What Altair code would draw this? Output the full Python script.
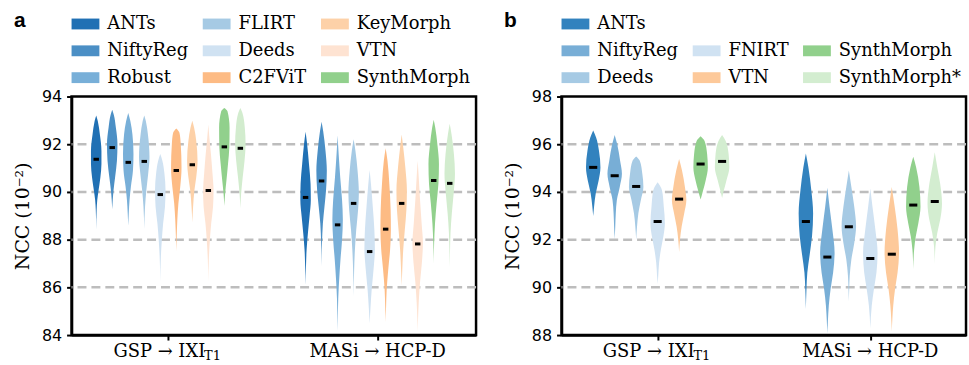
import altair as alt
import pandas as pd

# ---------------- data ----------------
groups_main = ["GSP \u2192 IXI", "MASi \u2192 HCP-D"]
groups_sub = ["T1", ""]

methods_a = ["ANTs", "NiftyReg", "Robust", "FLIRT", "Deeds", "C2FViT",
             "KeyMorph", "VTN", "SynthMorph", "SynthMorph*"]
colors_a = ["#2070b4", "#4b8fc5", "#78afd8", "#a6cae4", "#d0e2f2", "#fdbb84",
            "#fdd1a8", "#fee3d2", "#91d08c", "#d2ecce"]
legend_a = ["ANTs", "NiftyReg", "Robust", "FLIRT", "Deeds", "C2FViT",
            "KeyMorph", "VTN", "SynthMorph"]

methods_b = ["ANTs", "NiftyReg", "Deeds", "FNIRT", "VTN", "SynthMorph", "SynthMorph*"]
colors_b = ["#3282be", "#78aed6", "#a6cae4", "#d0e2f2", "#fdc99a", "#91d08c", "#d3edd0"]
legend_b = ["ANTs", "NiftyReg", "Deeds", " ", "FNIRT", "VTN",
            "  ", "SynthMorph", "SynthMorph*"]

yticks_a = [84, 86, 88, 90, 92, 94]
yticks_b = [88, 90, 92, 94, 96, 98]

# medians (NCC x 1e-2)
med_a_gsp = [91.37, 91.86, 91.24, 91.28, 89.89, 90.90, 91.14, 90.06, 91.89, 91.83]
med_a_masi = [89.77, 90.46, 88.62, 89.52, 87.50, 88.44, 89.52, 87.82, 90.48, 90.36]
med_b_gsp = [95.03, 94.68, 94.23, 92.76, 93.70, 95.17, 95.28]
med_b_masi = [92.76, 91.27, 92.54, 91.21, 91.39, 93.45, 93.60]

# violin outlines: (NCC value, relative half-width)
prof_a_gsp = [
    [(93.21, 0), (92.97, .3), (92.41, .7), (91.72, 1), (91.17, 1), (90.62, .8), (90.07, .45), (89.66, .2), (89.24, .08), (88.44, 0)],
    [(93.45, 0), (93.24, .3), (92.69, .7), (92.0, 1), (91.31, .9), (90.62, .55), (90.07, .25), (89.66, .1), (89.27, 0)],
    [(93.31, 0), (92.97, .4), (92.41, .8), (91.59, 1), (90.90, .9), (90.21, .5), (89.66, .25), (89.10, .1), (88.58, 0)],
    [(93.21, 0), (92.97, .3), (92.41, .7), (91.45, 1), (90.76, .75), (90.07, .4), (89.38, .15), (88.44, 0)],
    [(91.59, 0), (91.31, .4), (90.76, .8), (90.07, 1), (89.38, .9), (88.69, .55), (88.0, .3), (87.31, .12), (86.21, 0)],
    [(92.66, 0), (92.48, .6), (92.0, .85), (91.03, 1), (90.21, .75), (89.52, .4), (88.83, .2), (88.14, .08), (87.52, 0)],
    [(92.99, 0), (92.69, .35), (92.14, .75), (91.31, 1), (90.62, .75), (90.07, .4), (89.38, .15), (88.72, 0)],
    [(92.83, 0), (92.28, .2), (91.59, .5), (90.76, .8), (90.07, 1), (89.38, .9), (88.69, .55), (88.0, .3), (87.17, .1), (86.23, 0)],
    [(93.52, 0), (93.38, .6), (92.69, 1), (91.86, .95), (91.17, .7), (90.48, .4), (89.93, .15), (89.41, 0)],
    [(93.52, 0), (93.31, .4), (92.69, .85), (92.0, 1), (91.31, .8), (90.62, .45), (89.93, .15), (89.31, 0)],
]
prof_a_masi = [
    [(92.52, 0), (92.0, .3), (91.17, .65), (90.34, .95), (89.66, 1), (88.97, .75), (88.28, .45), (87.59, .2), (86.90, .08), (86.11, 0)],
    [(92.94, 0), (92.55, .3), (91.72, .75), (90.90, 1), (90.07, .85), (89.38, .55), (88.69, .25), (87.86, .08), (86.86, 0)],
    [(92.37, 0), (91.59, .2), (90.62, .5), (89.66, .85), (88.83, 1), (88.0, .85), (87.17, .55), (86.34, .3), (85.52, .12), (84.83, .05), (84.18, 0)],
    [(92.21, 0), (91.72, .35), (90.90, .75), (89.93, 1), (89.24, .85), (88.41, .5), (87.59, .25), (86.76, .1), (85.63, 0)],
    [(90.92, 0), (90.34, .25), (89.38, .6), (88.41, .9), (87.59, 1), (86.76, .75), (85.93, .4), (85.10, .15), (84.48, 0)],
    [(91.83, 0), (91.31, .35), (90.34, .7), (89.24, .95), (88.41, 1), (87.59, .85), (86.76, .5), (85.93, .2), (85.10, .07), (84.55, 0)],
    [(92.41, 0), (91.86, .3), (91.03, .7), (90.07, 1), (89.24, .9), (88.41, .6), (87.59, .3), (86.76, .12), (86.07, 0)],
    [(91.31, 0), (90.62, .2), (89.66, .45), (88.69, .75), (87.86, 1), (87.03, .8), (86.21, .45), (85.38, .2), (84.69, .07), (84.14, 0)],
    [(93.03, 0), (92.69, .3), (92.0, .7), (91.17, 1), (90.34, .9), (89.52, .55), (88.69, .25), (87.86, .08), (86.99, 0)],
    [(92.86, 0), (92.41, .35), (91.59, .8), (90.76, 1), (89.93, .75), (89.10, .4), (88.28, .15), (87.45, .05), (86.83, 0)],
]
prof_b_gsp = [
    [(96.58, 0), (96.28, .4), (95.72, .8), (95.03, 1), (94.48, .75), (93.93, .35), (93.38, .12), (92.99, 0)],
    [(96.39, 0), (96.0, .35), (95.31, .75), (94.76, 1), (94.21, .7), (93.66, .3), (93.10, .15), (92.55, .08), (92.03, 0)],
    [(95.49, 0), (95.31, .5), (94.76, .85), (94.21, 1), (93.66, .65), (93.10, .3), (92.55, .12), (92.0, 0)],
    [(94.41, 0), (94.07, .6), (93.38, .85), (92.69, 1), (92.14, .8), (91.59, .45), (91.03, .2), (90.48, .08), (90.14, 0)],
    [(95.38, 0), (94.90, .4), (94.21, .8), (93.66, 1), (93.10, .7), (92.55, .35), (92.0, .12), (91.48, 0)],
    [(96.34, 0), (96.14, .55), (95.59, .9), (95.03, 1), (94.48, .7), (94.07, .35), (93.68, 0)],
    [(96.39, 0), (96.14, .5), (95.59, .9), (95.03, 1), (94.48, .6), (94.07, .25), (93.75, 0)],
]
prof_b_masi = [
    [(95.61, 0), (95.03, .35), (94.07, .75), (93.10, 1), (92.14, .85), (91.31, .5), (90.62, .2), (89.93, .08), (89.08, 0)],
    [(94.18, 0), (93.38, .3), (92.41, .7), (91.45, 1), (90.62, .8), (89.93, .45), (89.24, .2), (88.55, .07), (88.07, 0)],
    [(94.90, 0), (94.21, .35), (93.38, .75), (92.55, 1), (91.86, .75), (91.17, .35), (90.48, .12), (89.93, .05), (89.41, 0)],
    [(94.14, 0), (93.38, .3), (92.41, .7), (91.45, 1), (90.62, .85), (89.93, .5), (89.24, .2), (88.28, 0)],
    [(94.21, 0), (93.38, .4), (92.41, .8), (91.45, 1), (90.62, .8), (89.93, .45), (89.24, .2), (88.69, .08), (88.14, 0)],
    [(95.48, 0), (95.03, .4), (94.21, .85), (93.38, 1), (92.69, .7), (92.14, .35), (91.59, .12), (90.76, 0)],
    [(95.66, 0), (95.03, .35), (94.34, .75), (93.52, 1), (92.83, .75), (92.28, .35), (91.72, .1), (90.97, 0)],
]

# ---------------- layout constants ----------------
W, H = 407, 240
RECT = "M-1,-0.39H1V0.39H-1Z"
SERIF = "DejaVu Serif"


def make_panel(letter, methods, colors, legend_vals, meds, profs, yticks,
               xdom, spacing, halfw, medhalf):
    n = len(methods)
    vrows, mrows = [], []
    for g in range(2):
        for k, m in enumerate(methods):
            xc = g + (k - (n - 1) / 2) * spacing
            for v, w in profs[g][k]:
                vrows.append({"method": m, "vid": f"{g}-{k}", "value": v,
                              "left": xc - w * halfw, "right": xc + w * halfw})
            mrows.append({"median": meds[g][k], "ml": xc - medhalf, "mr": xc + medhalf})
    vdf = pd.DataFrame(vrows)
    mdf = pd.DataFrame(mrows)

    blanks = [b for b in legend_vals if b.strip() == ""]
    domain = methods + blanks
    rng = colors + ["#ffffff00"] * len(blanks)

    xscale = alt.Scale(domain=xdom, nice=False, zero=False)
    yscale = alt.Scale(domain=[yticks[0], yticks[-1]], nice=False, zero=False)
    xaxis = alt.Axis(values=[0, 1], labels=False, title=None, grid=False,
                     ticks=True, tickSize=5, tickWidth=2)
    yaxis = alt.Axis(values=yticks, title="NCC (10\u207b\u00b2)", grid=False,
                     labelPadding=5, titlePadding=9, format="d")

    grid = alt.Chart(pd.DataFrame({"g": yticks[1:-1]})).mark_rule(
        color="#bdbdbd", strokeWidth=2.5, strokeDash=[9, 5]
    ).encode(y=alt.Y("g:Q", scale=yscale, axis=yaxis))

    violins = alt.Chart(vdf).mark_area(
        orient="horizontal", interpolate="monotone"
    ).encode(
        y=alt.Y("value:Q", scale=yscale, axis=yaxis),
        x=alt.X("left:Q", scale=xscale, axis=xaxis, stack=None),
        x2="right:Q",
        detail="vid:N",
        color=alt.Color("method:N",
                        scale=alt.Scale(domain=domain, range=rng),
                        legend=alt.Legend(
                            orient="none", legendX=0, legendY=-87,
                            columns=3, values=legend_vals, title=None,
                            symbolType=RECT, symbolSize=784,
                            symbolStrokeWidth=0, symbolOpacity=1,
                            labelFont=SERIF, labelFontSize=18,
                            labelColor="black", labelOffset=8,
                            columnPadding=14, rowPadding=4, padding=0,
                            labelLimit=300)),
    )

    medians = alt.Chart(mdf).mark_rule(color="black", strokeWidth=3).encode(
        y=alt.Y("median:Q", scale=yscale, axis=yaxis),
        x=alt.X("ml:Q", scale=xscale, axis=xaxis),
        x2="mr:Q",
    )

    gdf = pd.DataFrame({"gx": [0, 1], "main": groups_main, "sub": groups_sub})
    main_with_sub = alt.Chart(gdf).transform_filter("datum.sub != ''").mark_text(
        font=SERIF, fontSize=18, color="black", align="center",
        baseline="alphabetic", dx=-9
    ).encode(
        x=alt.X("gx:Q", scale=xscale, axis=xaxis),
        y=alt.value(H + 22.5),
        text="main:N",
    )
    main_plain = alt.Chart(gdf).transform_filter("datum.sub == ''").mark_text(
        font=SERIF, fontSize=18, color="black", align="center",
        baseline="alphabetic"
    ).encode(
        x=alt.X("gx:Q", scale=xscale, axis=xaxis),
        y=alt.value(H + 22.5),
        text="main:N",
    )
    sub_lbl = alt.Chart(gdf).transform_filter("datum.sub != ''").mark_text(
        font=SERIF, fontSize=13, color="black", align="left",
        baseline="alphabetic", dx=36
    ).encode(
        x=alt.X("gx:Q", scale=xscale, axis=xaxis),
        y=alt.value(H + 25.5),
        text="sub:N",
    )

    letter_lbl = alt.Chart(pd.DataFrame({"t": [letter]})).mark_text(
        font="Liberation Sans", fontWeight="bold", fontSize=21, color="black",
        align="left", baseline="alphabetic"
    ).encode(x=alt.value(-58), y=alt.value(-70), text="t:N")

    return alt.layer(grid, violins, medians, main_with_sub, main_plain, sub_lbl,
                     letter_lbl).properties(width=W, height=H)


panel_a = make_panel("a", methods_a, colors_a, legend_a, [med_a_gsp, med_a_masi],
                     [prof_a_gsp, prof_a_masi], yticks_a, [-0.462, 1.470],
                     0.0765, 0.025, 0.013)
panel_b = make_panel("b", methods_b, colors_b, legend_b, [med_b_gsp, med_b_masi],
                     [prof_b_gsp, prof_b_masi], yticks_b, [-0.452, 1.450],
                     0.101, 0.0340, 0.019)

chart = alt.hconcat(panel_a, panel_b, spacing=23).resolve_scale(
    color="independent", x="independent", y="independent"
).resolve_legend(color="independent").properties(
    padding={"left": 12, "top": 7, "right": 0, "bottom": 0}
).configure_view(
    stroke="black", strokeWidth=2.5
).configure_axis(
    domainColor="black", domainWidth=2.5, tickColor="black", tickWidth=2,
    tickSize=5, labelFont="DejaVu Sans", labelFontSize=16, labelColor="black",
    titleFont=SERIF, titleFontSize=19, titleFontWeight="normal", titleColor="black"
)

chart.save("out.html", embed_options={"renderer": "svg", "actions": False})
